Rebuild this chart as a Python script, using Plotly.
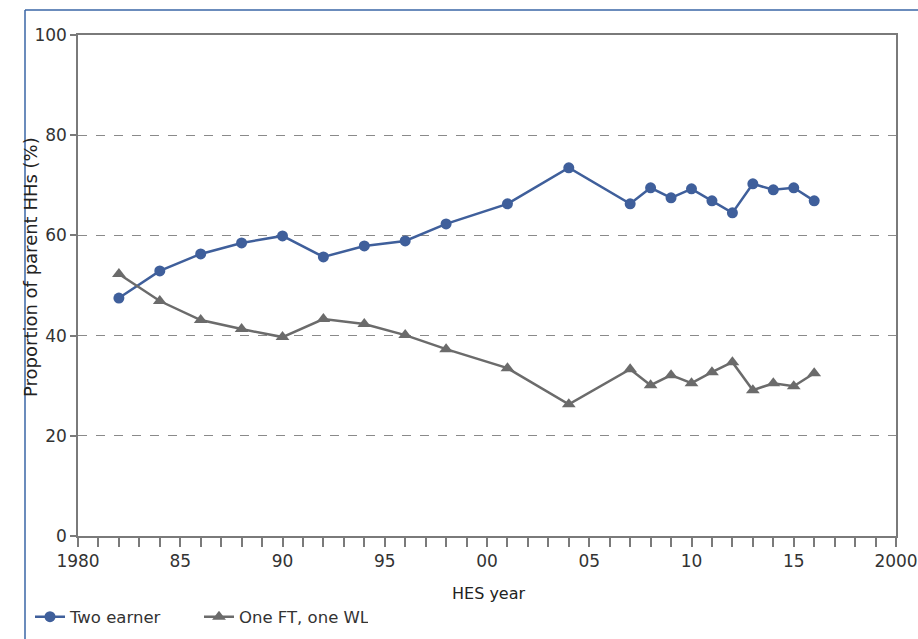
import plotly.graph_objects as go

years = [1982, 1984, 1986, 1988, 1990, 1992, 1994, 1996, 1998, 2001, 2004,
         2007, 2008, 2009, 2010, 2011, 2012, 2013, 2014, 2015, 2016]
two_earner = [47.5, 52.9, 56.3, 58.5, 59.9, 55.7, 57.9, 58.9, 62.3, 66.3, 73.5,
              66.3, 69.5, 67.5, 69.3, 66.9, 64.5, 70.3, 69.1, 69.5, 66.9]
one_ft_one_wl = [52.3, 46.9, 43.1, 41.3, 39.7, 43.3, 42.3, 40.1, 37.3, 33.5, 26.3,
                 33.3, 30.1, 32.1, 30.5, 32.7, 34.7, 29.1, 30.5, 29.9, 32.5]

x_tickvals = [1980, 1985, 1990, 1995, 2000, 2005, 2010, 2015, 2020]
x_ticktext = ["1980", "85", "90", "95", "00", "05", "10", "15", "2000"]
y_tickvals = [0, 20, 40, 60, 80, 100]

BLUE = "#3F5F9B"
GRAY = "#6B6B6B"
AXIS = "#7A7A7A"
FONT = "DejaVu Sans"

fig = go.Figure()
fig.add_trace(go.Scatter(
    x=years, y=two_earner, name="Two earner", mode="lines+markers",
    line=dict(color=BLUE, width=2.5),
    marker=dict(symbol="circle", size=11, color=BLUE)))
fig.add_trace(go.Scatter(
    x=years, y=one_ft_one_wl, name="One FT, one WL", mode="lines+markers",
    line=dict(color=GRAY, width=2.5),
    marker=dict(symbol="triangle-up", size=12, color=GRAY)))

W, H = 918, 639
L, R, T, B = 78, 22, 35, 103
pw, ph = W - L - R, H - T - B

def px(x):
    return (x - L) / pw

def py(y):
    return (H - B - y) / ph

fig.update_layout(
    width=W, height=H,
    margin=dict(l=L, r=R, t=T, b=B, autoexpand=False),
    paper_bgcolor="white", plot_bgcolor="white",
    font=dict(family=FONT, color="#333333"),
    showlegend=True,
    legend=dict(orientation="h", x=px(30), y=py(617), xanchor="left", yanchor="middle",
                font=dict(size=16.5, family=FONT, color="#333333"),
                itemwidth=30, entrywidth=124, entrywidthmode="pixels",
                tracegroupgap=0, bgcolor="rgba(0,0,0,0)"),
    xaxis=dict(range=[1980, 2020], tickvals=x_tickvals, ticktext=x_ticktext,
               showline=True, linecolor=AXIS, linewidth=1.5, mirror=True,
               ticks="outside", ticklen=9, tickcolor=AXIS, tickwidth=1.5,
               minor=dict(dtick=1, ticks="outside", ticklen=9, tickcolor=AXIS, tickwidth=1.5),
               showgrid=False, zeroline=False,
               tickfont=dict(size=17, family=FONT, color="#333333")),
    yaxis=dict(range=[0, 100], tickvals=y_tickvals,
               showline=True, linecolor=AXIS, linewidth=1.5, mirror=True,
               ticks="outside", ticklen=6, tickcolor=AXIS, tickwidth=1.5,
               showgrid=True, gridcolor="#8A8A8A", griddash="dash", gridwidth=1,
               zeroline=False,
               tickfont=dict(size=17, family=FONT, color="#333333")),
    annotations=[
        dict(text="Proportion of parent HHs (%)", xref="paper", yref="paper",
             x=px(30), y=py(267), textangle=-90, showarrow=False,
             xanchor="center", yanchor="middle",
             font=dict(size=18, family=FONT, color="#222222")),
        dict(text="HES year", xref="paper", yref="paper",
             x=px(489), y=py(593), showarrow=False,
             xanchor="center", yanchor="middle",
             font=dict(size=16, family=FONT, color="#222222")),
    ],
    shapes=[
        dict(type="line", xref="paper", yref="paper", x0=px(25), x1=px(W + 5),
             y0=py(10), y1=py(10), line=dict(color="#3A66A6", width=1.5)),
        dict(type="line", xref="paper", yref="paper", x0=px(25), x1=px(25),
             y0=py(10), y1=py(H + 5), line=dict(color="#3A66A6", width=1.5)),
    ],
)

fig.write_html("out.html", config={"displayModeBar": False},
               post_script="document.body.style.margin='0';document.body.style.overflow='hidden';")
